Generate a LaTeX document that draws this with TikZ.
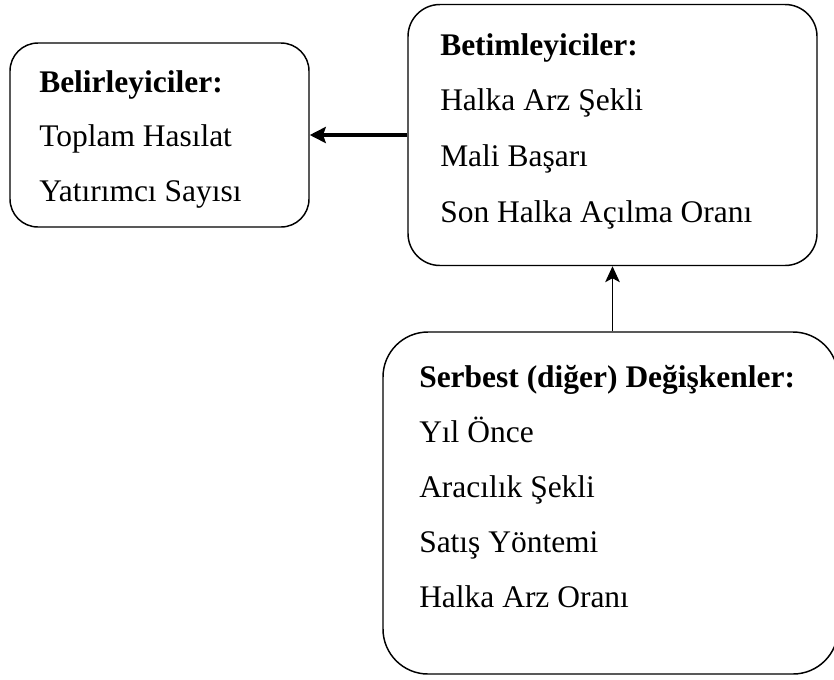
\documentclass[tikz,border=0pt]{standalone}
\usepackage{fontspec}
\setmainfont{Liberation Serif}
\usepackage{tikz}
\usetikzlibrary{arrows.meta,positioning}
\tikzset{
  box/.style={draw=black, line width=1.1pt, rounded corners=#1, inner sep=0pt},
  lab/.style={anchor=base west, inner sep=0pt, font=\fontsize{23.6}{28}\selectfont},
  labb/.style={lab, font=\fontsize{23.6}{28}\selectfont\bfseries},
  link/.style={draw=black, line width=0.9pt, -{Stealth[length=12pt, width=11pt, inset=3pt]}},
  linkk/.style={draw=black, line width=3pt, -{Stealth[length=12pt, width=12pt, inset=2pt]}},
}

\begin{document}
\begin{tikzpicture}[x=0.75pt, y=-0.75pt]
\useasboundingbox (0,0) rectangle (834,679);
\node[box=21pt, minimum width=224.25pt, minimum height=138pt] (belir) at (159.5,135) {};
\node[box=24pt, minimum width=306.75pt, minimum height=195.75pt] (betim) at (612.5,135) {};
\node[box=33.75pt, minimum width=341.25pt, minimum height=256.5pt] (serbest) at (610.5,503) {};

\node[labb] (belir-0) at (39,92) {Belirleyiciler:};
\foreach \t [count=\i] in {Toplam Hasılat, Yatırımcı Sayısı}
  \node[lab] (belir-\i) at (39,92+54.5*\i) {\t};

\node[labb] (betim-0) at (440,55) {Betimleyiciler:};
\foreach \t [count=\i] in {Halka Arz Şekli, Mali Başarı, Son Halka Açılma Oranı}
  \node[lab] (betim-\i) at (440,55+55.7*\i) {\t};

\node[labb] (serbest-0) at (419,387) {Serbest (diğer) Değişkenler:};
\foreach \t [count=\i] in {Yıl Önce, Aracılık Şekli, Satış Yöntemi, Halka Arz Oranı}
  \node[lab] (serbest-\i) at (419,387+55.2*\i) {\t};

\draw[linkk] (betim.west) -- (belir.east);
\draw[link] (serbest.north -| betim.south) -- (betim.south);
\end{tikzpicture}
\end{document}
